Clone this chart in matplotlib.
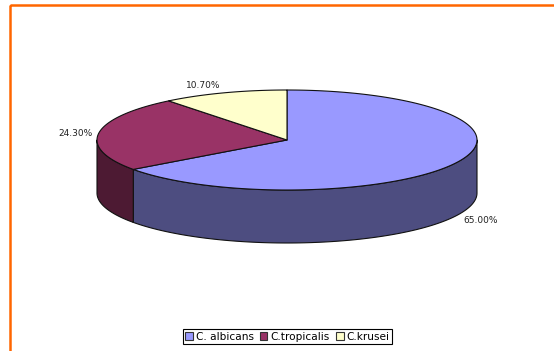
import numpy as np
import matplotlib
matplotlib.use("Agg")
import matplotlib.pyplot as plt
from matplotlib.patches import Polygon, Patch, Rectangle

# Species share of isolates (percent)
species = ["C. albicans", "C.tropicalis", "C.krusei"]
shares = [65.00, 24.30, 10.70]
top_colors = ["#9999FF", "#993366", "#FFFFCC"]
side_colors = ["#4D4D80", "#4D1A33", "#80805F"]

# Pie geometry in pixel space
cx, cy = 287.0, 140.0
rx, ry = 190.0, 50.0
depth = 53.0

fig = plt.figure(figsize=(5.54, 3.51), dpi=100)
ax = fig.add_axes([0, 0, 1, 1])
ax.set_xlim(0, 554)
ax.set_ylim(351, 0)
ax.axis("off")


def rim(theta_deg, drop=0.0):
    t = np.radians(theta_deg)
    return np.column_stack([cx + rx * np.cos(t), cy - ry * np.sin(t) + drop])


# slice angles: start at 12 o'clock, run clockwise
fracs = np.array(shares) / sum(shares)
starts = 90.0 - np.concatenate([[0.0], np.cumsum(fracs)[:-1]]) * 360.0
ends = starts - fracs * 360.0

edge_kw = dict(edgecolor="#111111", linewidth=0.8, joinstyle="round")

# visible side walls (front half of the rim, 180..360 degrees)
for s, e, sc in zip(starts, ends, side_colors):
    lo, hi = e % 360.0, s % 360.0
    if hi <= lo:
        hi += 360.0
    seg_lo, seg_hi = max(lo, 180.0), min(hi, 360.0)
    if seg_hi <= seg_lo:
        continue
    th = np.linspace(seg_lo, seg_hi, 120)
    up = rim(th)
    dn = rim(th[::-1], depth)
    ax.add_patch(Polygon(np.vstack([up, dn]), closed=True, facecolor=sc, **edge_kw))

# top faces
for s, e, tc in zip(starts, ends, top_colors):
    th = np.linspace(s, e, 200)
    pts = np.vstack([[cx, cy], rim(th)])
    ax.add_patch(Polygon(pts, closed=True, facecolor=tc, **edge_kw))

# value labels
label_pos = [(463, 220.5, "left"), (93, 133.5, "right"), (186, 86, "left")]
for (x, y, ha), v in zip(label_pos, shares):
    ax.text(x, y, f"{v:.2f}%", fontsize=6.5, color="#222222",
            ha=ha, va="center")

# orange frame around the chart area
fig.add_artist(Rectangle((10 / 554, 1 - 5.3 / 351), 2.0, -2.0,
                         transform=fig.transFigure, fill=False,
                         edgecolor="#FF6600", linewidth=1.8))

handles = [Patch(facecolor=c, edgecolor="#333333", linewidth=0.8) for c in top_colors]
leg = ax.legend(handles, species, ncol=3, loc="center",
                bbox_to_anchor=(287.5 / 554, 1 - 336.5 / 351),
                bbox_transform=fig.transFigure, frameon=True, fancybox=False,
                edgecolor="black", framealpha=1, fontsize=7.6,
                handlelength=0.7, handleheight=0.7, handletextpad=0.3,
                columnspacing=0.6, borderpad=0.22, borderaxespad=0)
leg.get_frame().set_linewidth(0.8)

fig.savefig("out.png", dpi=100)
